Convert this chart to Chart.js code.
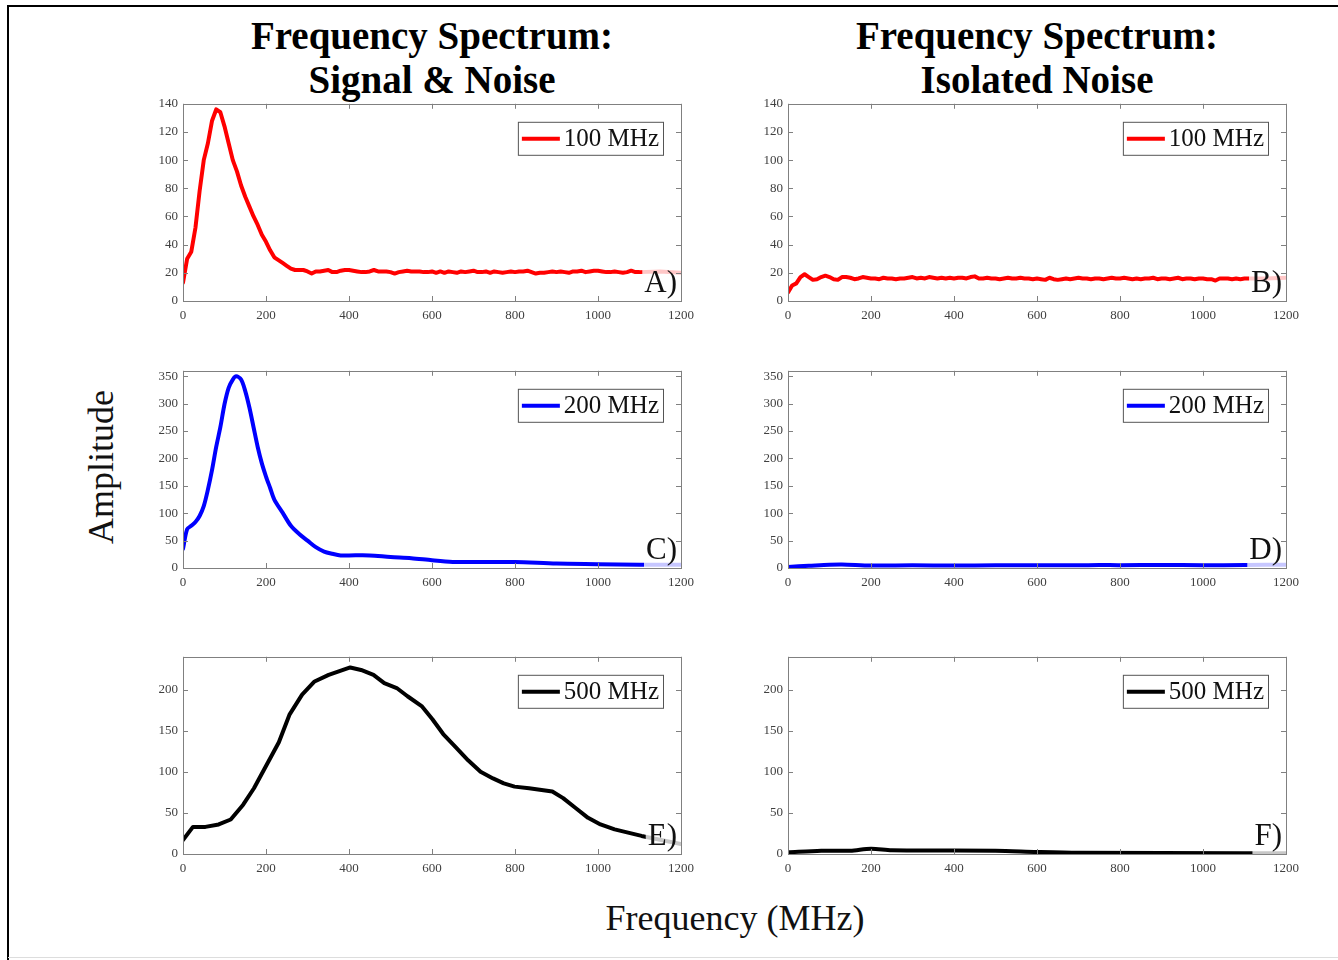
<!DOCTYPE html>
<html>
<head>
<meta charset="utf-8">
<script src="https://cdn.jsdelivr.net/npm/chart.js@4/dist/chart.umd.min.js"></script>
<style>
  body { margin: 0; background: #fff; }
  #page { position: relative; width: 1338px; height: 960px; overflow: hidden; background: #fff; font-family: "Liberation Serif", "Times New Roman", serif; }
  #page canvas { position: absolute; }
  .frame-top { position: absolute; left: 8px; top: 5px; width: 1330px; height: 2px; background: #000; }
  .frame-left { position: absolute; left: 7px; top: 5px; width: 2px; height: 955px; background: #000; }
  .frame-bottom { position: absolute; left: 8px; top: 957px; width: 1330px; height: 1px; background: #ddd; }
  .title { position: absolute; width: 560px; margin-left: -280px; text-align: center; font-weight: bold; font-size: 39px; line-height: 44px; color: #000; }
  .ylab { position: absolute; left: 101px; top: 467px; font-size: 36px; transform: translate(-50%, -50%) rotate(-90deg); white-space: nowrap; color: #111; }
  .xlab { position: absolute; left: 735px; top: 918px; font-size: 36px; transform: translate(-50%, -50%); white-space: nowrap; color: #111; }
</style>
</head>
<body>
<div id="page">
  <div class="frame-top"></div>
  <div class="frame-left"></div>
  <div class="frame-bottom"></div>
  <div class="title" style="left:432px; top:14px;">Frequency Spectrum:<br>Signal &amp; Noise</div>
  <div class="title" style="left:1037px; top:14px;">Frequency Spectrum:<br>Isolated Noise</div>
  <div class="ylab">Amplitude</div>
  <div class="xlab">Frequency (MHz)</div>
</div>
<script>
// frequency grid (MHz) shared by the two 100 MHz traces
const freqNoise = [0, 10, 20, 30, 40, 50, 60, 70, 80, 90,
  100, 110, 120, 130, 140, 150, 160, 170, 180, 190,
  200, 210, 220, 230, 240, 250, 260, 270, 280, 290,
  300, 310, 320, 330, 340, 350, 360, 370, 380, 390,
  400, 410, 420, 430, 440, 450, 460, 470, 480, 490,
  500, 510, 520, 530, 540, 550, 560, 570, 580, 590,
  600, 610, 620, 630, 640, 650, 660, 670, 680, 690,
  700, 710, 720, 730, 740, 750, 760, 770, 780, 790,
  800, 810, 820, 830, 840, 850, 860, 870, 880, 890,
  900, 910, 920, 930, 940, 950, 960, 970, 980, 990,
  1000, 1010, 1020, 1030, 1040, 1050, 1060, 1070, 1080, 1090,
  1100, 1150, 1200];

// A) signal + noise, 100 MHz
const ampA = [13, 30, 35, 52, 78, 100, 112, 128, 136, 134,
  124, 112, 100, 92, 82, 74, 67, 60, 54, 47,
  42, 36, 31, 29, 27, 25, 23, 22, 22, 22,
  21, 19.5, 21, 21, 21.5, 22, 20.5, 20.5, 21.5, 22,
  22, 21.5, 21, 20.5, 20.5, 21, 22, 21, 21, 21,
  20.5, 19.5, 20.5, 21, 21.5, 21, 21, 21, 20.5, 20.5,
  21, 20, 21, 20, 21, 20.5, 20, 21, 20.5, 21,
  21.5, 20.5, 20.5, 21, 20, 21, 20.5, 20, 20.5, 21,
  20.5, 21, 21, 21.5, 20.5, 19.5, 20, 20, 20.5, 21,
  20.5, 21, 20.5, 20, 21, 21, 21.5, 20.5, 21, 21.5,
  21.5, 21, 20.5, 20.5, 21, 20.5, 20, 20.5, 21.5, 20.5,
  20.5, 21, 20];

// B) isolated noise, 100 MHz
const ampB = [6, 11, 12.5, 17, 19, 17, 15, 15.5, 17, 18,
  17, 15.5, 15, 17, 17, 16.5, 15.5, 16, 17, 16.5,
  16, 16, 15.5, 16.5, 16, 16, 15.5, 16, 16, 16.5,
  17, 16, 16.5, 16, 17, 16.5, 16, 16.5, 16, 16.5,
  16, 16.5, 16.5, 16, 17, 17.5, 16, 16, 16.5, 16,
  16, 15.5, 16, 16.5, 16, 16, 16.5, 16, 16, 15.5,
  16, 15.5, 15, 16.5, 15.5, 15, 15.5, 16, 15.5, 16,
  16.5, 16, 16, 15.5, 16, 16, 15.5, 16, 16.5, 16,
  16, 16.5, 16, 15.5, 16, 15.5, 16, 16, 16.5, 15.5,
  16, 16, 15.5, 16, 16.5, 15.5, 16, 16, 15.5, 16,
  16, 15.5, 15.5, 14.5, 16, 16, 16, 15.5, 16, 15.5,
  16, 16, 16.5];

// C) signal + noise, 200 MHz
const freqC = [0, 10, 20, 30, 40, 50, 60, 70, 80, 90, 100, 110, 120, 128, 140, 150, 160, 170, 180, 190,
  200, 210, 220, 240, 260, 280, 300, 320, 340, 360, 380, 400, 450, 500, 550, 600, 650, 700, 800, 900, 1000, 1100, 1200];
const ampC = [35, 71, 77, 84, 95, 113, 143, 179, 221, 257, 299, 329, 344, 350, 344, 323, 293, 257, 221, 191,
  167, 146, 125, 101, 77, 62, 50, 38, 30, 26, 23, 23, 23, 20, 18, 14, 11, 11, 11, 8, 7, 6, 6];

// D) isolated noise, 200 MHz
const freqD = [0, 50, 100, 130, 200, 300, 400, 500, 600, 700, 750, 800, 900, 1000, 1100, 1200];
const ampD = [2, 4, 6, 6.5, 4.5, 5, 4.5, 5, 5, 5, 5.5, 5, 5.5, 5, 5.5, 6];

// E) signal + noise, 500 MHz
const freqE = [0, 24, 54, 86, 115, 145, 171, 201, 231, 257, 287, 317, 351, 403, 429, 459, 485, 515, 541, 575,
  601, 627, 657, 687, 717, 747, 773, 799, 834, 890, 916, 946, 976, 1006, 1040, 1105, 1200];
const ampE = [17, 33, 33, 36, 42, 60, 80, 108, 136, 170, 194, 210, 218, 227, 224, 218, 208, 202, 192, 180,
  164, 146, 130, 114, 100, 92, 86, 82, 80, 76, 68, 56, 44, 36, 30, 22, 12];

// F) isolated noise, 500 MHz
const freqF = [0, 80, 150, 200, 250, 500, 600, 700, 1100, 1200];
const ampF = [2, 4, 4, 6.5, 4.5, 4, 2.5, 1.5, 1, 1];

const FONT = '"Liberation Serif", "Times New Roman", serif';

// ejes estilo matlab: caja, marcas hacia dentro, leyenda y etiqueta del panel
const matlabAxes = {
  id: 'matlabAxes',
  afterDatasetsDraw(chart, args, opts) {
    const { ctx, chartArea: a, scales } = chart;
    ctx.save();

    // etiqueta del panel con fondo blanco semitransparente
    ctx.font = '31px ' + FONT;
    ctx.textAlign = 'right';
    ctx.textBaseline = 'alphabetic';
    const tw = ctx.measureText(opts.tag).width;
    const tx = a.right - 4, ty = a.bottom - 9;
    ctx.fillStyle = 'rgba(255,255,255,0.78)';
    ctx.fillRect(tx - tw - 2, ty - 29, a.right - (tx - tw - 2), a.bottom - (ty - 29));
    ctx.fillStyle = '#111';
    ctx.fillText(opts.tag, tx, ty);

    // leyenda
    const ds = chart.data.datasets[0];
    ctx.font = '25px ' + FONT;
    const lw = ctx.measureText(ds.label).width;
    const bw = 4 + 38 + 4 + lw + 4, bh = 33;
    const bx = a.right - 18 - bw, by = a.top + 18;
    ctx.fillStyle = '#fff';
    ctx.fillRect(bx, by, bw, bh);
    ctx.strokeStyle = '#555';
    ctx.lineWidth = 1;
    ctx.strokeRect(bx + 0.5, by + 0.5, bw, bh);
    ctx.strokeStyle = ds.borderColor;
    ctx.lineWidth = 4;
    ctx.beginPath();
    ctx.moveTo(bx + 4, by + bh / 2 + 0.5);
    ctx.lineTo(bx + 42, by + bh / 2 + 0.5);
    ctx.stroke();
    ctx.fillStyle = '#111';
    ctx.textAlign = 'left';
    ctx.textBaseline = 'middle';
    ctx.fillText(ds.label, bx + 46, by + bh / 2 + 1);

    // caja y marcas
    ctx.strokeStyle = '#808080';
    ctx.lineWidth = 1;
    ctx.strokeRect(Math.round(a.left) + 0.5, Math.round(a.top) + 0.5,
      Math.round(a.right - a.left), Math.round(a.bottom - a.top));
    ctx.beginPath();
    scales.x.ticks.forEach(t => {
      const px = Math.round(scales.x.getPixelForValue(t.value)) + 0.5;
      ctx.moveTo(px, a.bottom); ctx.lineTo(px, a.bottom - 5);
      ctx.moveTo(px, a.top); ctx.lineTo(px, a.top + 5);
    });
    scales.y.ticks.forEach(t => {
      const py = Math.round(scales.y.getPixelForValue(t.value)) + 0.5;
      ctx.moveTo(a.left, py); ctx.lineTo(a.left + 5, py);
      ctx.moveTo(a.right, py); ctx.lineTo(a.right - 5, py);
    });
    ctx.stroke();
    ctx.restore();
  }
};

const panels = [
  { left: 183, top: 102, freq: freqNoise, amp: ampA, color: '#ff0000', label: '100 MHz', yMax: 140, yStep: 20, tag: 'A)', tension: 0 },
  { left: 788, top: 102, freq: freqNoise, amp: ampB, color: '#ff0000', label: '100 MHz', yMax: 140, yStep: 20, tag: 'B)', tension: 0 },
  { left: 183, top: 369, freq: freqC, amp: ampC, color: '#0000ff', label: '200 MHz', yMax: 360, yStep: 50, tag: 'C)', tension: 0.3 },
  { left: 788, top: 369, freq: freqD, amp: ampD, color: '#0000ff', label: '200 MHz', yMax: 360, yStep: 50, tag: 'D)', tension: 0.3 },
  { left: 183, top: 655, freq: freqE, amp: ampE, color: '#000000', label: '500 MHz', yMax: 240, yStep: 50, tag: 'E)', tension: 0 },
  { left: 788, top: 655, freq: freqF, amp: ampF, color: '#000000', label: '500 MHz', yMax: 240, yStep: 50, tag: 'F)', tension: 0.3 }
];

const PLOT_W = 498, PLOT_H = 200, YAXIS_W = 50, XAXIS_H = 30, PAD_TOP = 10, PAD_RIGHT = 20;
const page = document.getElementById('page');

panels.forEach(p => {
  const canvas = document.createElement('canvas');
  canvas.width = PLOT_W + YAXIS_W + PAD_RIGHT;
  canvas.height = PLOT_H + PAD_TOP + XAXIS_H;
  canvas.style.left = (p.left - YAXIS_W) + 'px';
  canvas.style.top = (p.top - PAD_TOP - 1) + 'px';
  page.appendChild(canvas);

  new Chart(canvas.getContext('2d'), {
    type: 'line',
    data: {
      datasets: [{
        label: p.label,
        data: p.freq.map((f, i) => ({ x: f, y: p.amp[i] })),
        borderColor: p.color,
        borderWidth: 4,
        pointRadius: 0,
        tension: p.tension,
        fill: false,
        borderJoinStyle: 'round',
        borderCapStyle: 'round'
      }]
    },
    options: {
      responsive: false,
      devicePixelRatio: 1,
      animation: false,
      layout: { padding: { top: PAD_TOP, right: PAD_RIGHT, left: 0, bottom: 0 } },
      scales: {
        x: {
          type: 'linear', min: 0, max: 1200,
          grid: { display: false, drawTicks: false },
          border: { display: false },
          ticks: { stepSize: 200, padding: 7, color: '#404040', font: { family: FONT, size: 13 }, maxRotation: 0,
            callback: v => String(v) },
          afterFit: s => { s.height = XAXIS_H; }
        },
        y: {
          min: 0, max: p.yMax,
          grid: { display: false, drawTicks: false },
          border: { display: false },
          ticks: { stepSize: p.yStep, includeBounds: false, padding: 5, color: '#404040', font: { family: FONT, size: 13 },
            callback: v => String(v) },
          afterFit: s => { s.width = YAXIS_W; }
        }
      },
      plugins: {
        legend: { display: false },
        tooltip: { enabled: false },
        matlabAxes: { tag: p.tag }
      }
    },
    plugins: [matlabAxes]
  });
});
</script>
</body>
</html>
